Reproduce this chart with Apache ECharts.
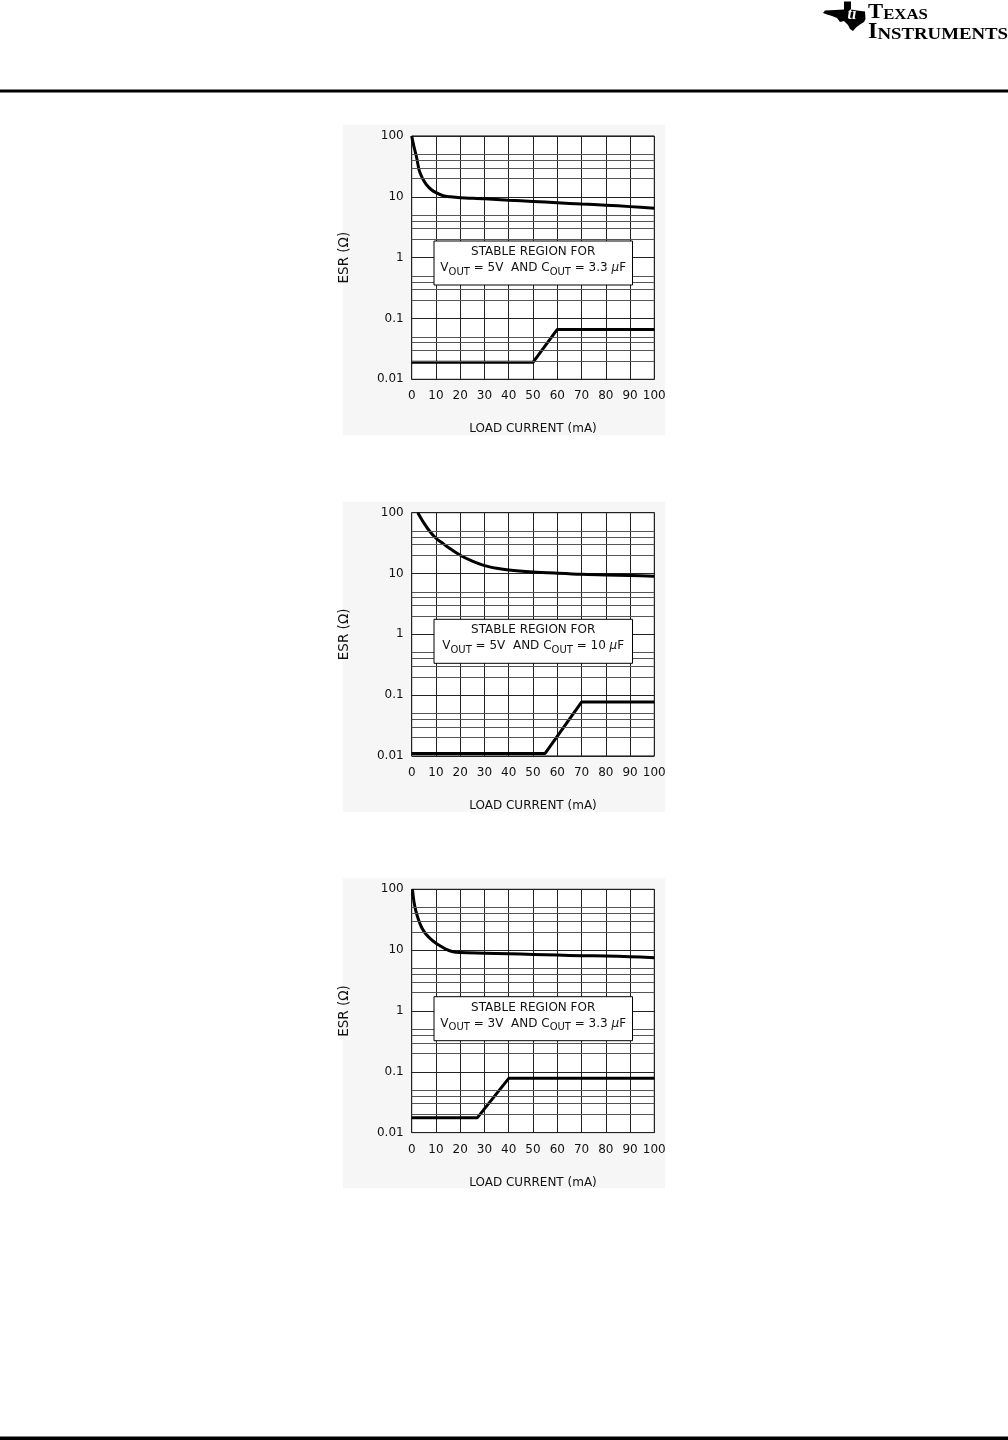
<!DOCTYPE html>
<html><head><meta charset="utf-8">
<script src="https://cdn.jsdelivr.net/npm/echarts@6/dist/echarts.min.js"></script>
<style>html,body{margin:0;padding:0;background:#fff}#c{width:1008px;height:1440px}</style>
</head><body><div id="c"></div>
<script>
// ---- data ----
const xTicks = [0, 10, 20, 30, 40, 50, 60, 70, 80, 90, 100];
const yTicks = [0.01, 0.1, 1, 10, 100];
const minorGrid = [0.02, 0.03, 0.04, 0.05, 0.2, 0.3, 0.4, 0.5, 2, 3, 4, 5, 20, 30, 40, 50];

const upperX1 = [0, 0.5, 1, 2, 3, 4, 5, 6, 8, 10, 13, 16, 20, 30, 40, 50, 60, 70, 80, 90, 100];
const upperY1 = [100, 80, 65, 45, 28, 22, 18.3, 16, 13.2, 11.7, 10.4, 10, 9.7, 9.3, 8.8, 8.4, 8.0, 7.6, 7.3, 6.9, 6.5];
const lowerX1 = [0, 50, 60, 100];
const lowerY1 = [0.019, 0.019, 0.066, 0.066];

const upperX2 = [2.5, 5, 7.5, 10, 12.5, 15, 20, 25, 30, 35, 40, 50, 60, 70, 80, 90, 100];
const upperY2 = [100, 68, 49, 38, 32, 27, 20, 16, 13.5, 12.2, 11.4, 10.6, 10.1, 9.7, 9.5, 9.3, 9.0];
const lowerX2 = [0, 55, 70, 100];
const lowerY2 = [0.011, 0.011, 0.077, 0.077];

const upperX3 = [0.3, 1, 1.5, 2, 3, 4, 5, 6, 8, 10, 12, 14, 17, 20, 30, 40, 50, 60, 70, 80, 90, 100];
const upperY3 = [100, 60, 48, 40, 30, 24, 20.5, 18, 15, 13, 11.6, 10.4, 9.4, 9.1, 8.9, 8.7, 8.5, 8.3, 8.1, 8.0, 7.8, 7.5];
const lowerX3 = [0, 27, 40, 100];
const lowerY3 = [0.0175, 0.0175, 0.078, 0.078];

const voutLabels = ['5V', '5V', '3V'];
const coutLabels = ['3.3 ', '10 ', '3.3 '];
const boxTitle = 'STABLE REGION FOR';
const xName = 'LOAD CURRENT (mA)';
const yName = 'ESR (\u03A9)';

// ---- layout ----
const FONT = 'DejaVu Sans';
const gridTops = [136, 512.7, 889.3];
const gridLeft = 411.7, gridW = 242.6, gridH = 243.3;
const boxOffsets = [105, 106.6, 107.4];

const uppers = [[upperX1, upperY1], [upperX2, upperY2], [upperX3, upperY3]];
const lowers = [[lowerX1, lowerY1], [lowerX2, lowerY2], [lowerX3, lowerY3]];
const zip = (xs, ys) => xs.map((x, i) => [x, ys[i]]);

const grids = [], xAxes = [], yAxes = [], series = [], graphics = [];

gridTops.forEach((top, k) => {
  grids.push({left: gridLeft, top: top, width: gridW, height: gridH, show: true,
    borderColor: '#000', borderWidth: 1, backgroundColor: '#fff'});
  xAxes.push({type: 'value', gridIndex: k, min: xTicks[0], max: xTicks[xTicks.length - 1],
    interval: xTicks[1] - xTicks[0],
    axisLine: {show: false}, axisTick: {show: false},
    axisLabel: {color: '#111', fontFamily: FONT, fontSize: 12, margin: 11},
    splitLine: {show: true, lineStyle: {color: '#222', width: 1}},
    name: xName, nameLocation: 'middle', nameGap: 44,
    nameTextStyle: {color: '#111', fontFamily: FONT, fontSize: 12}});
  yAxes.push({type: 'log', logBase: 10, gridIndex: k, min: yTicks[0], max: yTicks[yTicks.length - 1],
    axisLine: {show: false}, axisTick: {show: false},
    axisLabel: {color: '#111', fontFamily: FONT, fontSize: 12, margin: 8,
      formatter: v => String(+(+v).toPrecision(2))},
    splitLine: {show: true, lineStyle: {color: '#222', width: 1}},
    name: yName, nameLocation: 'middle', nameGap: 60, nameRotate: 90,
    nameTextStyle: {color: '#111', fontFamily: FONT, fontSize: 13.5}});
  series.push({type: 'line', xAxisIndex: k, yAxisIndex: k, data: [], silent: true, z: 1,
    markLine: {silent: true, symbol: ['none', 'none'], label: {show: false}, animation: false,
      lineStyle: {color: '#555', width: 1, type: 'solid'},
      emphasis: {disabled: true},
      data: minorGrid.map(v => ({yAxis: v}))}});
  series.push({type: 'line', xAxisIndex: k, yAxisIndex: k, data: zip(uppers[k][0], uppers[k][1]),
    smooth: 0.3, showSymbol: false, symbol: 'none', z: 3,
    lineStyle: {color: '#000', width: 3}});
  series.push({type: 'line', xAxisIndex: k, yAxisIndex: k, data: zip(lowers[k][0], lowers[k][1]),
    showSymbol: false, symbol: 'none', z: 3,
    lineStyle: {color: '#000', width: 3}});

  // light panel behind chart
  graphics.push({type: 'rect', z: -5, silent: true,
    shape: {x: 343, y: top - 11, width: 322, height: 310}, style: {fill: '#f6f6f6'}});
  // annotation box
  const bt = top + boxOffsets[k];
  graphics.push({type: 'rect', z: 10, silent: true,
    shape: {x: 434, y: bt, width: 198.5, height: 44}, style: {fill: '#fff', stroke: '#000', lineWidth: 1}});
  graphics.push({type: 'text', z: 11, silent: true, x: 533.2, y: bt + 11,
    style: {text: boxTitle, fontFamily: FONT, fontSize: 12, fill: '#111', align: 'center', verticalAlign: 'middle'}});
  graphics.push({type: 'text', z: 11, silent: true, x: 533.2, y: bt + 28,
    style: {text: '{m|V}{s|OUT}{m| = ' + voutLabels[k] + '  AND C}{s|OUT}{m| = ' + coutLabels[k] + '}{mu|\u03BC}{m|F}',
      align: 'center', verticalAlign: 'middle', fill: '#111',
      rich: {
        m: {fontFamily: FONT, fontSize: 12, lineHeight: 14, verticalAlign: 'top', fill: '#111'},
        mu: {fontFamily: FONT, fontSize: 12, lineHeight: 14, verticalAlign: 'top', fontStyle: 'italic', fill: '#111'},
        s: {fontFamily: FONT, fontSize: 10, lineHeight: 10, verticalAlign: 'top', padding: [5, 0, 0, 0], fill: '#111'}
      }}});
});

// header / footer
graphics.push({type: 'rect', silent: true, shape: {x: 0, y: 89.5, width: 1008, height: 3}, style: {fill: '#000'}});
graphics.push({type: 'rect', silent: true, shape: {x: 0, y: 1436.5, width: 1008, height: 3.5}, style: {fill: '#000'}});
graphics.push({type: 'polygon', silent: true,
  shape: {points: [[844, 1.5], [851, 1.5], [851, 9.5], [857, 10.5], [865, 11.5], [865.5, 19], [864, 22], [860, 24.5], [856, 27.5],
    [853, 31], [850, 29], [848, 25], [844, 21], [840, 22], [837, 18], [832, 16], [827, 14.5], [823, 13], [825, 10.5],
    [835, 10], [844, 9.5]]},
  style: {fill: '#000'}});
graphics.push({type: 'text', silent: true, x: 852, y: 15, z: 2,
  style: {text: 'ti', fontFamily: 'Liberation Serif', fontSize: 16, fontWeight: 'bold', fontStyle: 'italic',
    fill: '#fff', align: 'center', verticalAlign: 'middle'}});
graphics.push({type: 'text', silent: true, x: 868, y: 23.2, scaleX: 1.08,
  style: {text: '{a|T}{b|EXAS}', verticalAlign: 'bottom', align: 'left',
    rich: {a: {fontFamily: 'Liberation Serif', fontWeight: 'bold', fontSize: 21, lineHeight: 21, verticalAlign: 'bottom', fill: '#000'},
      b: {fontFamily: 'Liberation Serif', fontWeight: 'bold', fontSize: 15.5, lineHeight: 15.5, verticalAlign: 'bottom', fill: '#000'}}}});
graphics.push({type: 'text', silent: true, x: 868, y: 43.4, scaleX: 1.075,
  style: {text: '{a|I}{b|NSTRUMENTS}', verticalAlign: 'bottom', align: 'left',
    rich: {a: {fontFamily: 'Liberation Serif', fontWeight: 'bold', fontSize: 22.5, lineHeight: 22.5, verticalAlign: 'bottom', fill: '#000'},
      b: {fontFamily: 'Liberation Serif', fontWeight: 'bold', fontSize: 17.5, lineHeight: 17.5, verticalAlign: 'bottom', fill: '#000'}}}});

const chart = echarts.init(document.getElementById('c'), null, {renderer: 'canvas'});
chart.setOption({
  animation: false,
  backgroundColor: '#fff',
  grid: grids, xAxis: xAxes, yAxis: yAxes, series: series,
  graphic: {elements: graphics}
});
</script></body></html>
